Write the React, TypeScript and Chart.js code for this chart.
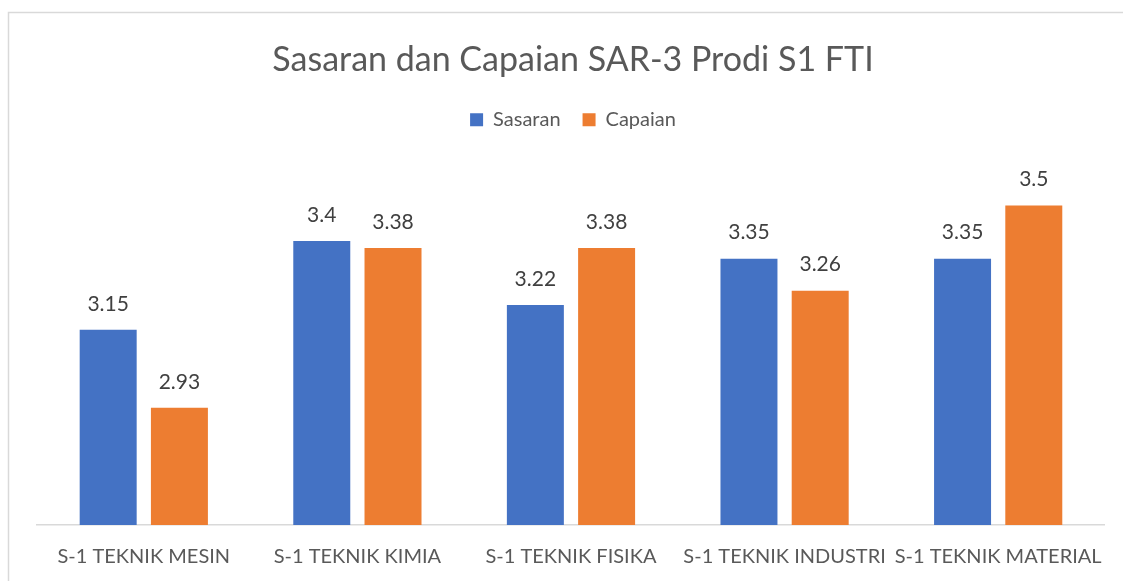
import React, { useEffect, useRef } from "react";
import { Chart, registerables } from "chart.js";

Chart.register(...registerables);

const categories = [
  "S-1 TEKNIK MESIN",
  "S-1 TEKNIK KIMIA",
  "S-1 TEKNIK FISIKA",
  "S-1 TEKNIK INDUSTRI",
  "S-1 TEKNIK MATERIAL",
];
const sasaran = [3.15, 3.4, 3.22, 3.35, 3.35];
const capaian = [2.93, 3.38, 3.38, 3.26, 3.5];
const titleText = "Sasaran dan Capaian SAR-3 Prodi S1 FTI";
const yMin = 2.6;
const yMax = 3.685;

const FONT = "Lato, 'Open Sans', sans-serif";

const framePlugin = {
  id: "frame",
  beforeDraw(chart: any) {
    const ctx = chart.ctx;
    ctx.save();
    ctx.fillStyle = "#ffffff";
    ctx.fillRect(0, 0, chart.width, chart.height);
    ctx.strokeStyle = "#d9d9d9";
    ctx.lineWidth = 1.5;
    ctx.beginPath();
    ctx.moveTo(8.5, chart.height);
    ctx.lineTo(8.5, 12.5);
    ctx.lineTo(chart.width, 12.5);
    ctx.stroke();
    ctx.restore();
  },
};

const labelPlugin = {
  id: "valueLabels",
  afterDatasetsDraw(chart: any) {
    const ctx = chart.ctx;
    ctx.save();
    ctx.font = `21px ${FONT}`;
    ctx.fillStyle = "#404040";
    ctx.textAlign = "center";
    ctx.textBaseline = "middle";
    chart.data.datasets.forEach((ds: any, i: number) => {
      const meta = chart.getDatasetMeta(i);
      meta.data.forEach((el: any, j: number) => {
        ctx.fillText(String(ds.data[j]), el.x, el.y - 26);
      });
    });
    ctx.restore();
  },
};

export default function App() {
  const ref = useRef<HTMLCanvasElement>(null);
  useEffect(() => {
    if (!ref.current) return;
    const chart = new Chart(ref.current, {
      type: "bar",
      data: {
        labels: categories,
        datasets: [
          {
            label: "Sasaran",
            data: sasaran,
            backgroundColor: "#4472c4",
            barPercentage: 0.8,
            categoryPercentage: 0.667,
          },
          {
            label: "Capaian",
            data: capaian,
            backgroundColor: "#ed7d31",
            barPercentage: 0.8,
            categoryPercentage: 0.667,
          },
        ],
      },
      options: {
        responsive: false,
        animation: false,
        layout: { padding: { left: 37, right: 14, top: 0, bottom: -8 } },
        plugins: {
          title: {
            display: true,
            text: titleText,
            color: "#595959",
            font: { family: FONT, size: 34, weight: "normal" as any },
            padding: { top: 40, bottom: 7 },
          },
          legend: {
            display: true,
            labels: {
              color: "#595959",
              font: { family: FONT, size: 20 },
              boxWidth: 13,
              boxHeight: 13,
              padding: 22,
            },
          },
          tooltip: { enabled: false },
        },
        scales: {
          x: {
            grid: { display: false, drawTicks: false },
            border: { display: true, color: "#d9d9d9", width: 1.5 },
            ticks: {
              color: "#595959",
              font: { family: FONT, size: 20 },
              padding: 20,
              maxRotation: 0,
              autoSkip: false,
            },
          },
          y: {
            display: false,
            min: yMin,
            max: yMax,
          },
        },
      },
      plugins: [framePlugin, labelPlugin],
    });
    return () => chart.destroy();
  }, []);
  return (
    <div style={{ position: "fixed", left: 0, top: 0, width: 1123, height: 581 }}>
      <canvas ref={ref} width={1123} height={581} />
    </div>
  );
}
